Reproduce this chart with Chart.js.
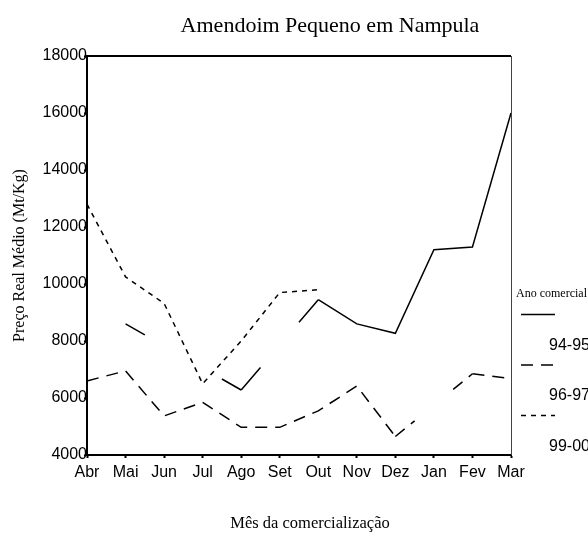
<!DOCTYPE html>
<html>
<head>
<meta charset="utf-8">
<title>Amendoim Pequeno em Nampula</title>
<script src="https://cdn.jsdelivr.net/npm/chart.js@4.4.1/dist/chart.umd.min.js"></script>
<style>
  html, body { margin: 0; padding: 0; background: #fff; overflow: hidden; }
  #wrap { width: 588px; height: 534px; }
</style>
</head>
<body>
<div id="wrap"><canvas id="chart" width="588" height="534"></canvas></div>
<script>
// dados (Mt/Kg)
const meses = ['Abr','Mai','Jun','Jul','Ago','Set','Out','Nov','Dez','Jan','Fev','Mar'];
const anos = ['94-95','96-97','99-00'];
const preco9495 = [null, 8600, null, null, 6280, null, 9450, 8600, 8270, 11200, 11300, 16000];
const preco9697 = [6600, 6950, 5370, 5850, 4970, 4970, 5550, 6420, 4650, null, 6850, 6680];
const preco9900 = [12800, 10250, 9320, 6500, 8000, 9700, 9800, null, null, null, null, null];
const yMin = 4000, yMax = 18000, yPasso = 2000;

const titulo = 'Amendoim Pequeno em Nampula';
const tituloX = 'Mês da comercialização';
const tituloY = 'Preço Real Médio (Mt/Kg)';
const tituloLegenda = 'Ano comercial';
const tracos = [[], [12, 8], [5, 5]];

// padrao de traco para um troco que passa por meses sem dado:
// so se ve meio passo junto a cada ponto valido
function montaTraco(base, vis, oculto) {
  if (!base.length) return [vis, oculto, vis * 4];
  const out = [];
  let soma = 0, i = 0;
  while (soma < vis - 0.01) {
    const s = Math.min(base[i % base.length], vis - soma);
    out.push(s); soma += s; i++;
  }
  if (out.length % 2 === 1) out.push(oculto); else out[out.length - 1] += oculto;
  soma = 0; i = 0;
  while (soma < vis) { const s = base[i % base.length]; out.push(s); soma += s; i++; }
  if (out.length % 2 === 1) out.push(base[1]);
  return out;
}

function tracoSegmento(ctx) {
  const ds = ctx.chart.data.datasets[ctx.datasetIndex];
  const dados = ds.data;
  let a = ctx.p0DataIndex, b = ctx.p1DataIndex;
  if (dados[a] != null && dados[b] != null) return undefined;
  while (a >= 0 && dados[a] == null) a--;
  while (b < dados.length && dados[b] == null) b++;
  if (a < 0 || b >= dados.length) return undefined;
  const pts = ctx.chart.getDatasetMeta(ctx.datasetIndex).data;
  const len = Math.hypot(pts[b].x - pts[a].x, pts[b].y - pts[a].y);
  const vis = len / (2 * (b - a));
  return montaTraco(ds.borderDash || [], vis, len - 2 * vis);
}

function serie(label, dados, traco) {
  return {
    label: label,
    data: dados,
    borderColor: '#000',
    borderWidth: 1.5,
    borderDash: traco,
    pointRadius: 0,
    tension: 0,
    fill: false,
    spanGaps: true,
    segment: { borderDash: tracoSegmento }
  };
}

const extras = {
  id: 'extras',
  afterDraw(chart) {
    const {ctx, chartArea: a} = chart;
    ctx.save();
    // moldura superior e direita
    ctx.setLineDash([]);
    ctx.strokeStyle = '#000';
    ctx.lineWidth = 2;
    ctx.beginPath(); ctx.moveTo(a.left, a.top); ctx.lineTo(a.right, a.top); ctx.stroke();
    ctx.strokeStyle = '#444';
    ctx.lineWidth = 1;
    ctx.beginPath(); ctx.moveTo(a.right + 0.5, a.top); ctx.lineTo(a.right + 0.5, a.bottom); ctx.stroke();

    ctx.fillStyle = '#000';
    ctx.textBaseline = 'alphabetic';
    ctx.textAlign = 'center';
    ctx.font = '22px "Liberation Serif"';
    ctx.fillText(titulo, 330, 32);
    ctx.font = '16.5px "Liberation Serif"';
    ctx.fillText(tituloX, (a.left + a.right) / 2 + 11, 528);

    // legenda
    ctx.textAlign = 'left';
    ctx.font = '12px "Liberation Serif"';
    ctx.fillText(tituloLegenda, a.right + 5, 297);
    ctx.font = '16px "Liberation Sans"';
    chart.data.datasets.forEach((ds, i) => {
      const y = 314.5 + 50.5 * i;
      ctx.strokeStyle = '#000';
      ctx.lineWidth = 1.5;
      ctx.setLineDash(tracos[i]);
      ctx.beginPath(); ctx.moveTo(a.right + 10, y); ctx.lineTo(a.right + 44, y); ctx.stroke();
      ctx.fillText(ds.label, a.right + 38, 349.5 + 50.5 * i);
    });
    ctx.restore();
  }
};

new Chart(document.getElementById('chart'), {
  type: 'line',
  data: {
    labels: meses,
    datasets: [
      serie(anos[0], preco9495, tracos[0]),
      serie(anos[1], preco9697, tracos[1]),
      serie(anos[2], preco9900, tracos[2])
    ]
  },
  options: {
    responsive: false,
    animation: false,
    layout: { padding: { top: 56, right: 77, bottom: 0, left: 0 } },
    plugins: { legend: { display: false }, title: { display: false }, tooltip: { enabled: false } },
    scales: {
      x: {
        offset: false,
        afterFit: s => { s.height = 79; },
        grid: { drawOnChartArea: false, drawTicks: true, tickLength: 3, tickWidth: 2, tickColor: '#000' },
        border: { display: true, color: '#000', width: 2 },
        ticks: { autoSkip: false, maxRotation: 0, padding: 5, color: '#000', font: { family: 'Liberation Sans', size: 16 } }
      },
      y: {
        min: yMin,
        max: yMax,
        afterFit: s => { s.width = 87; },
        grid: { drawOnChartArea: false, drawTicks: true, tickLength: 3, tickWidth: 2, tickColor: '#000' },
        border: { display: true, color: '#000', width: 2 },
        ticks: { stepSize: yPasso, padding: -3, color: '#000', format: { useGrouping: false }, font: { family: 'Liberation Sans', size: 16 } },
        title: { display: true, text: tituloY, color: '#000', padding: { top: 10, bottom: 0 }, font: { family: 'Liberation Serif', size: 16 } }
      }
    }
  },
  plugins: [extras]
});
</script>
</body>
</html>
